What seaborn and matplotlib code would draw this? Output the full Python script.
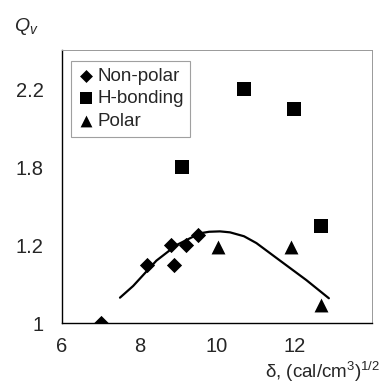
import pandas as pd
import matplotlib
matplotlib.use("Agg")
import matplotlib.pyplot as plt
import seaborn as sns

# values (x in (cal/cm3)^1/2, y in axis units)
nonpolar_x = [7.02, 8.21, 8.81, 8.90, 9.20, 9.52]
nonpolar_y = [1.00, 1.30, 1.40, 1.30, 1.40, 1.45]
hbond_x = [9.09, 10.70, 12.00, 12.68]
hbond_y = [1.80, 2.20, 2.10, 1.50]
polar_x = [10.02, 11.91, 12.68]
polar_y = [1.39, 1.39, 1.09]

# fitted curve
curve_x = [7.50, 7.84, 8.44, 8.96, 9.56, 9.80, 10.08, 10.34, 10.70, 11.02, 11.63, 12.31, 12.89]
curve_y = [1.13, 1.19, 1.32, 1.40, 1.46, 1.468, 1.47, 1.465, 1.445, 1.41, 1.32, 1.22, 1.127]

ytick_pos = [1.0, 1.4, 1.8, 2.2]
ytick_labels = ["1", "1.2", "1.8", "2.2"]
xtick_labels = [6, 8, 10, 12]

df = pd.DataFrame({
    "x": nonpolar_x + hbond_x + polar_x,
    "y": nonpolar_y + hbond_y + polar_y,
    "group": ["Non-polar"] * len(nonpolar_x) + ["H-bonding"] * len(hbond_x) + ["Polar"] * len(polar_x),
})

sns.set_style("white")
plt.rcParams["font.family"] = ["Liberation Sans", "DejaVu Sans"]
plt.rcParams["mathtext.fontset"] = "custom"
plt.rcParams["mathtext.rm"] = "Liberation Sans"
plt.rcParams["mathtext.it"] = "Liberation Sans:italic"

fig = plt.figure(figsize=(3.89, 3.85), dpi=100)
ax = fig.add_axes([0.159, 0.161, 0.797, 0.709])

markers = {"Non-polar": "D", "H-bonding": "s", "Polar": "^"}
sizes = {"Non-polar": 60, "H-bonding": 95, "Polar": 100}
for g, m in markers.items():
    sub = df[df.group == g]
    sns.scatterplot(data=sub, x="x", y="y", marker=m, color="black", s=sizes[g],
                    edgecolor="black", linewidth=0, ax=ax, label=g, zorder=3)

sns.lineplot(x=curve_x, y=curve_y, color="black", linewidth=1.6, ax=ax, zorder=2)

ax.set_xlim(6, 14)
ax.set_ylim(1.0, 2.4)
ax.set_xticks(range(6, 15), minor=False)
ax.set_xticklabels([str(v) if v in xtick_labels else "" for v in range(6, 15)])
ax.set_yticks(ytick_pos)
ax.set_yticklabels(ytick_labels)
ax.set_yticks([1.2, 1.6, 2.0], minor=True)
ax.tick_params(axis="both", which="both", direction="out", length=5, width=0.8,
               color="#555555", labelsize=14.5)
ax.tick_params(axis="x", which="major", pad=5)
ax.tick_params(axis="y", which="major", pad=8)
ax.set_xlabel("")
ax.set_ylabel("")

for side in ["left", "bottom"]:
    ax.spines[side].set_color("black")
    ax.spines[side].set_linewidth(1.0)
for side in ["top", "right"]:
    ax.spines[side].set_color("#999999")
    ax.spines[side].set_linewidth(0.7)
    ax.spines[side].set_linestyle((0, (1, 1)))

leg = ax.legend(loc="upper left", bbox_to_anchor=(0.03, 0.96), frameon=True,
                fancybox=False, edgecolor="#888888", fontsize=13.5,
                handletextpad=0.15, borderpad=0.35, labelspacing=0.3,
                handlelength=0.9, borderaxespad=0, markerscale=0.85)
leg.get_frame().set_linewidth(0.8)

fig.text(0.035, 0.93, "$Q_v$", fontsize=14, ha="left", va="center")
fig.text(0.977, 0.003, "δ, (cal/cm$^3$)$^{1/2}$", fontsize=13.5, ha="right", va="bottom")

fig.savefig("out.png", dpi=100)
